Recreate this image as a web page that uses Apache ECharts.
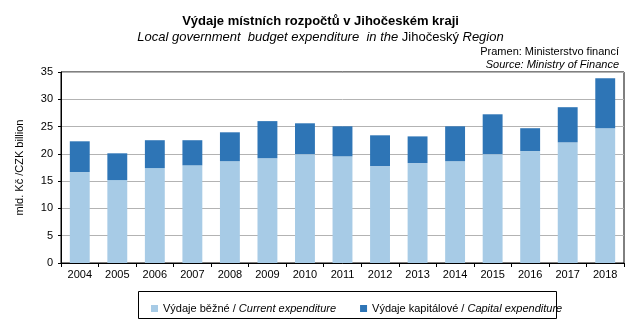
<!DOCTYPE html>
<html><head><meta charset="utf-8">
<script src="https://cdn.jsdelivr.net/npm/echarts@6/dist/echarts.min.js"></script>
<style>html,body{margin:0;padding:0;background:#fff}#c{width:641px;height:328px}</style>
</head><body><div id="c"></div>
<script>
const years = ['2004','2005','2006','2007','2008','2009','2010','2011','2012','2013','2014','2015','2016','2017','2018'];
const currentExp = [16.65,15.2,17.4,17.9,18.65,19.2,19.95,19.55,17.75,18.3,18.65,19.95,20.5,22.1,24.7];
const capitalExp = [5.65,4.9,5.1,4.6,5.3,6.8,5.65,5.5,5.65,4.9,6.4,7.3,4.2,6.45,9.15];
const yTicks = [0,5,10,15,20,25,30,35];

const F = 'Liberation Sans, Arial, sans-serif';
const chart = echarts.init(document.getElementById('c'));
chart.setOption({
  animation: false,
  textStyle: {fontFamily: F},
  title: [
    {text: 'Výdaje místních rozpočtů v Jihočeském kraji', left: 'center', top: 10,
     textStyle: {fontFamily: F, fontSize: 13, fontWeight: 'bold', color: '#000'}},
    {text: '{i|Local government  budget expenditure  in the }{n|Jihočeský}{i| Region}', left: 'center', top: 26,
     textStyle: {fontWeight: 'normal', rich: {
       i: {fontFamily: F, fontSize: 13, fontStyle: 'italic', fontWeight: 'normal', color: '#000'},
       n: {fontFamily: F, fontSize: 13, fontWeight: 'normal', color: '#000'}}}},
    {text: 'Pramen: Ministerstvo financí', right: 17, top: 41,
     textStyle: {fontFamily: F, fontSize: 11, fontWeight: 'normal', color: '#000'}},
    {text: '{n|Source: }{i|Ministry of Finance}', right: 17, top: 54,
     textStyle: {fontWeight: 'normal', rich: {
       i: {fontFamily: F, fontSize: 11, fontStyle: 'italic', fontWeight: 'normal', color: '#000'},
       n: {fontFamily: F, fontSize: 11, fontStyle: 'italic', fontWeight: 'normal', color: '#000'}}}}
  ],
  grid: {left: 61, right: 17, top: 72, bottom: 65, show: true, borderColor: '#000', borderWidth: 1},
  graphic: [
    {type: 'rect', shape: {x: 138.5, y: 291.5, width: 418, height: 27},
     style: {fill: 'none', stroke: '#000', lineWidth: 1}, silent: true}
  ],
  legend: {
    left: 146, top: 298, itemWidth: 7, itemHeight: 7, itemGap: 24, icon: 'rect',
    data: ['current', 'capital'],
    formatter: function (n) {
      return n === 'current'
        ? '{n|Výdaje běžné / }{i|Current expenditure}'
        : '{n|Výdaje kapitálové / }{i|Capital expenditure}';
    },
    textStyle: {rich: {
      n: {fontFamily: F, fontSize: 11, color: '#000'},
      i: {fontFamily: F, fontSize: 11, fontStyle: 'italic', color: '#000'}}}
  },
  xAxis: {
    type: 'category', data: years,
    axisLine: {lineStyle: {color: '#000', width: 1}},
    axisTick: {show: true, alignWithLabel: false, length: 4, lineStyle: {color: '#000'}},
    axisLabel: {fontFamily: F, fontSize: 11, color: '#000', margin: 6, interval: 0}
  },
  yAxis: {
    type: 'value', min: 0, max: 35, interval: 5,
    name: 'mld. Kč /CZK billion', nameLocation: 'middle', nameGap: 36, nameRotate: 90,
    nameTextStyle: {fontFamily: F, fontSize: 11, color: '#000'},
    axisLine: {show: true, lineStyle: {color: '#000', width: 1}},
    axisTick: {show: true, length: 3, lineStyle: {color: '#000'}},
    axisLabel: {fontFamily: F, fontSize: 11, color: '#000', margin: 8,
      formatter: v => yTicks.includes(v) ? String(v) : ''},
    splitLine: {show: true, lineStyle: {color: '#b3b3b3', width: 1}}
  },
  series: [
    {name: 'current', type: 'bar', stack: 't', data: currentExp, barWidth: '53%',
     itemStyle: {color: '#a7cbe6'}},
    {name: 'capital', type: 'bar', stack: 't', data: capitalExp, barWidth: '53%',
     itemStyle: {color: '#2e75b6'}}
  ]
});
</script></body></html>
